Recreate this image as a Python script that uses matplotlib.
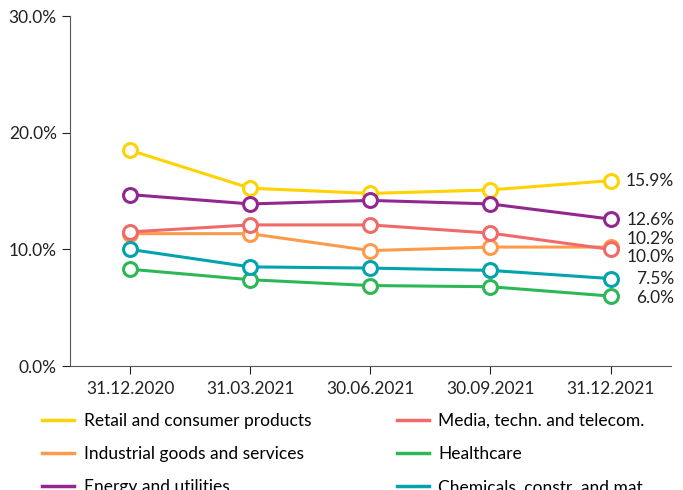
import matplotlib.pyplot as plt
from matplotlib.lines import Line2D

plt.rcParams['font.family'] = ['Lato', 'DejaVu Sans']

dates = ["31.12.2020", "31.03.2021", "30.06.2021", "30.09.2021", "31.12.2021"]

retail = [18.5, 15.25, 14.8, 15.1, 15.9]
industrial = [11.35, 11.35, 9.9, 10.2, 10.2]
energy = [14.7, 13.9, 14.2, 13.9, 12.6]
media = [11.5, 12.1, 12.1, 11.4, 10.0]
healthcare = [8.3, 7.4, 6.9, 6.8, 6.0]
chemicals = [10.0, 8.5, 8.4, 8.2, 7.5]

names = ["Retail and consumer products", "Industrial goods and services",
         "Energy and utilities", "Media, techn. and telecom.",
         "Healthcare", "Chemicals, constr. and mat"]
series = [retail, industrial, energy, media, healthcare, chemicals]
colors = ["#FFD200", "#FF9A4A", "#91278F", "#F06A6A", "#2DB757", "#00A3AE"]
# label heights nudged so the close end values don't collide
label_y = [15.85, 10.9, 12.5, 9.35, 5.85, 7.45]

fig = plt.figure(figsize=(6.83, 4.90), dpi=100)
ax = fig.add_axes([0.1025, 0.253, 0.8795, 0.714])

x = range(len(dates))
for vals, c in zip(series, colors):
    ax.plot(x, vals, color=c, lw=2.2, marker='o', ms=10, mfc='white',
            mec=c, mew=2.2, zorder=3, clip_on=False)

ax.set_xlim(-0.5, 4.5)
ax.set_ylim(0, 30)
ax.set_yticks([0, 10, 20, 30])
ax.set_yticklabels(["0.0%", "10.0%", "20.0%", "30.0%"])
ax.set_xticks(list(x))
ax.set_xticklabels(dates)
ax.tick_params(axis='both', labelsize=12.5, colors='#222222', length=6, width=0.8)
ax.tick_params(axis='x', pad=5)
for s in ['top', 'right']:
    ax.spines[s].set_visible(False)
for s in ['left', 'bottom']:
    ax.spines[s].set_color('#555555')
    ax.spines[s].set_linewidth(0.8)

for i, vals in enumerate(series):
    ax.text(4.53, label_y[i], f"{vals[-1]:.1f}%", ha='right', va='center',
            fontsize=12.5, color='#222222')

# legend, column-major so it reads like the original
handles = [Line2D([0], [0], color=c, lw=2.5) for c in colors]
fig.legend(handles, names, loc='upper left', bbox_to_anchor=(0.062, 0.158),
           ncol=2, frameon=False, fontsize=12.5, handlelength=1.85,
           handletextpad=0.55, columnspacing=4.9, labelspacing=1.0,
           borderaxespad=0, borderpad=0)

fig.savefig("out.png", dpi=100)
